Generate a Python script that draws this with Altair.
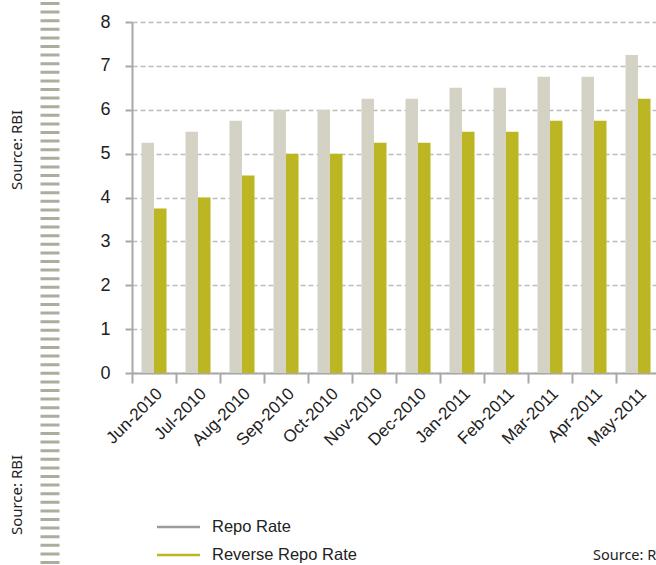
import altair as alt
import pandas as pd

# ---- data ----
months = ["Jun-2010", "Jul-2010", "Aug-2010", "Sep-2010", "Oct-2010", "Nov-2010",
          "Dec-2010", "Jan-2011", "Feb-2011", "Mar-2011", "Apr-2011", "May-2011"]
repo_rate = [5.25, 5.5, 5.75, 6.0, 6.0, 6.25, 6.25, 6.5, 6.5, 6.75, 6.75, 7.25]
reverse_repo_rate = [3.75, 4.0, 4.5, 5.0, 5.0, 5.25, 5.25, 5.5, 5.5, 5.75, 5.75, 6.25]
series = ["Repo Rate", "Reverse Repo Rate"]
y_ticks = [0, 1, 2, 3, 4, 5, 6, 7, 8]
source_note = "Source: RBI"

bar_colors = ["#D3D2C4", "#BCB623"]
legend_colors = ["#9B9B9B", "#BCB623"]

rows = []
for m, r, rr in zip(months, repo_rate, reverse_repo_rate):
    rows.append({"month": m, "series": series[0], "value": r})
    rows.append({"month": m, "series": series[1], "value": rr})
df = pd.DataFrame(rows)
note_df = pd.DataFrame({"note": [source_note]})
legend_df = pd.DataFrame({"series": series})

FONT = "Liberation Sans"
NOTE_FONT = "Noto Sans"

bars = alt.Chart(df).mark_bar().encode(
    x=alt.X(
        "month:N", sort=months,
        scale=alt.Scale(paddingInner=0, paddingOuter=0, range=[0, 528]),
        axis=alt.Axis(
            title=None, labelAngle=-45, labelFontSize=17, labelColor="#222222",
            labelFont=FONT, tickSize=10, tickWidth=2, tickColor="#A8A8A8",
            bandPosition=0, domainColor="#A8A8A8", domainWidth=2, grid=False,
            labelPadding=2,
        ),
    ),
    xOffset=alt.XOffset("series:N", sort=series,
                        scale=alt.Scale(paddingOuter=0.76, paddingInner=0)),
    y=alt.Y(
        "value:Q", scale=alt.Scale(domain=[0, 8], nice=False),
        axis=alt.Axis(
            title=None, values=y_ticks, labelFontSize=18, labelColor="#222222",
            labelFont=FONT, tickSize=7, tickWidth=2, tickColor="#A8A8A8",
            domainColor="#A8A8A8", domainWidth=2, labelPadding=15,
            grid=True, gridColor="#BDBDBD", gridDash=[5, 3], gridWidth=1.5,
        ),
    ),
    color=alt.Color(
        "series:N", sort=series,
        scale=alt.Scale(domain=series, range=bar_colors),
        legend=None,
    ),
)

# legend drawn as its own small layer (line swatch + label per series)
legend_y = alt.Y("series:N", sort=series,
                 scale=alt.Scale(type="point", domain=series, range=[505, 533], padding=0),
                 axis=None)
legend_lines = alt.Chart(legend_df).mark_rule(strokeWidth=2.5).encode(
    x=alt.value(25), x2=alt.value(68), y=legend_y,
    stroke=alt.Stroke("series:N", sort=series,
                      scale=alt.Scale(domain=series, range=legend_colors), legend=None),
)
legend_labels = alt.Chart(legend_df).mark_text(
    align="left", baseline="middle", font=FONT, fontSize=16.5, color="#222222"
).encode(x=alt.value(80), y=legend_y, text="series:N")
legend_block = alt.layer(legend_lines, legend_labels)

stripes = alt.Chart(note_df).mark_rule(
    color="#ADAC9E", strokeWidth=19, strokeDash=[3, 5.6]
).encode(x=alt.value(-82), y=alt.value(-20), y2=alt.value(543))

note_top = alt.Chart(note_df).mark_text(
    angle=270, font=NOTE_FONT, fontSize=15, color="#222222", align="center", baseline="middle"
).encode(text="note:N", x=alt.value(-115), y=alt.value(128))

note_bottom = alt.Chart(note_df).mark_text(
    angle=270, font=NOTE_FONT, fontSize=15, color="#222222", align="center", baseline="middle"
).encode(text="note:N", x=alt.value(-115), y=alt.value(473))

note_right = alt.Chart(note_df).mark_text(
    font=NOTE_FONT, fontSize=14.5, color="#222222", align="left", baseline="middle"
).encode(text="note:N", x=alt.value(461), y=alt.value(534))

chart = alt.layer(stripes, note_top, note_bottom, note_right, bars, legend_block).resolve_scale(
    y="independent", color="independent", stroke="independent"
).properties(
    width=524, height=351,
    autosize=alt.AutoSizeParams(type="none"),
    padding={"left": 132, "top": 22, "right": 0, "bottom": 192},
    background="white",
).configure_view(stroke=None)

chart.save("out.html", embed_options={"renderer": "svg", "actions": False})
